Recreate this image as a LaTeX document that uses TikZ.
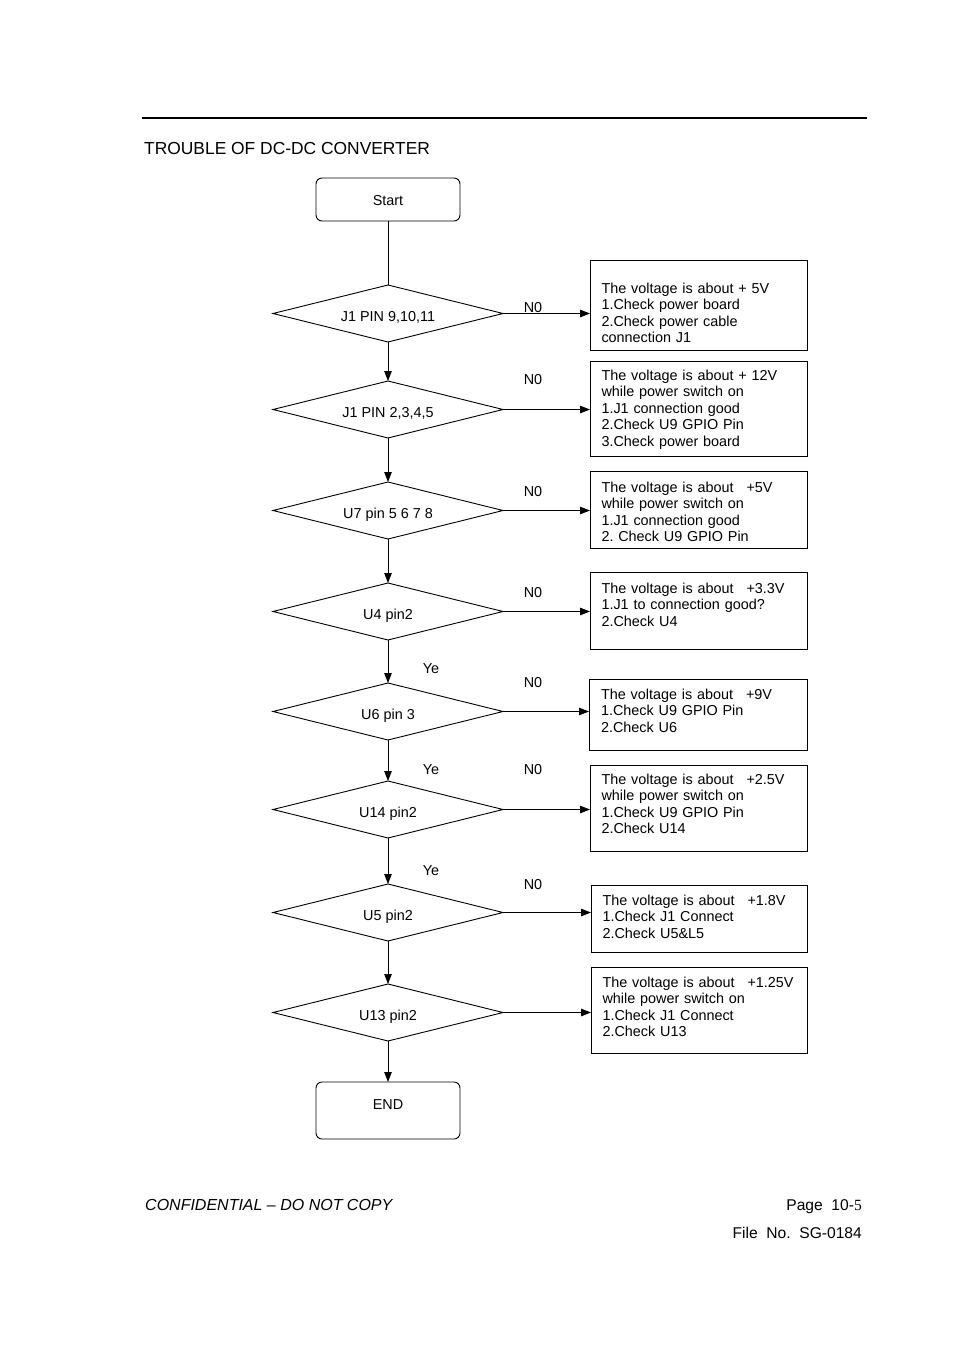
\documentclass[tikz,border=0pt]{standalone}
\usepackage{fontspec}
\setmainfont{Liberation Sans}
\newfontfamily\pagenumfont{Liberation Serif}
\usetikzlibrary{shapes.geometric, arrows.meta, positioning}
\frenchspacing

\tikzstyle{decision} = [diamond, draw, black, aspect=4, inner sep=0pt, outer sep=0pt,
                        minimum width=230pt, minimum height=57pt, line width=0.9pt,
                        text height=19pt, text depth=3pt]
\tikzstyle{terminal} = [rectangle, draw, black, rounded corners=6pt, minimum width=144pt,
                        inner ysep=0pt, outer sep=0pt, line width=0.9pt]
\tikzstyle{note} = [rectangle, draw, black, line width=1pt, inner xsep=11.5pt, inner ysep=0pt,
                    outer sep=0pt, text width=194pt, align=left, anchor=north west]
\tikzstyle{flow} = [-{Triangle[length=10pt,width=7.5pt]}, line width=0.9pt]
\tikzstyle{answer} = [inner sep=0pt]

\begin{document}
\begin{tikzpicture}[x=1pt, y=-1pt, font=\fontsize{14.4}{16.5}\selectfont]
\useasboundingbox (0,0) rectangle (954,1351);

%Header
\draw[line width=2pt] (142,118) -- (867,118);
\node[anchor=base west, inner sep=0pt, font=\fontsize{17.4}{20}\selectfont] (title) at (144,154.5) {TROUBLE OF DC-DC CONVERTER};

%Nodes
\node[terminal, anchor=north, text height=27pt, text depth=16pt] (start) at (388,178) {Start};
\node[decision, below=64pt of start] (j1a) {J1 PIN 9,10,11};
\node[decision, below=39pt of j1a] (j1b) {J1 PIN 2,3,4,5};
\node[decision, below=44pt of j1b] (u7) {U7 pin 5 6 7 8};
\node[decision, below=44pt of u7] (u4) {U4 pin2};
\node[decision, below=43pt of u4] (u6) {U6 pin 3};
\node[decision, below=41pt of u6] (u14) {U14 pin2};
\node[decision, below=46pt of u14] (u5) {U5 pin2};
\node[decision, below=43pt of u5] (u13) {U13 pin2};
\node[terminal, below=41pt of u13, text height=27pt, text depth=30pt] (end) {END};

%Notes
\node[note, text height=33pt, text depth=57pt] (v5) at (590,260)
  {The voltage is about + 5V\\1.Check power board\\2.Check power cable\\connection J1};
\node[note, text height=19pt, text depth=76pt] (v12) at (590,361)
  {The voltage is about + 12V\\while power switch on\\1.J1 connection good\\2.Check U9 GPIO Pin\\3.Check power board};
\node[note, text height=21pt, text depth=56pt] (v5b) at (590,471)
  {The voltage is about\hspace{13pt}+5V\\while power switch on\\1.J1 connection good\\2. Check U9 GPIO Pin};
\node[note, text height=21pt, text depth=56pt] (v33) at (590,572)
  {The voltage is about\hspace{13pt}+3.3V\\1.J1 to connection good?\\2.Check U4};
\node[note, text height=20pt, text depth=51pt, minimum width=218pt] (v9) at (589,679)
  {The voltage is about\hspace{13pt}+9V\\1.Check U9 GPIO Pin\\2.Check U6};
\node[note, text height=19pt, text depth=67pt] (v25) at (590,765)
  {The voltage is about\hspace{13pt}+2.5V\\while power switch on\\1.Check U9 GPIO Pin\\2.Check U14};
\node[note, text height=20pt, text depth=47pt, text width=193pt] (v18) at (591,885)
  {The voltage is about\hspace{13pt}+1.8V\\1.Check J1 Connect\\2.Check U5\&L5};
\node[note, text height=20pt, text depth=66pt, text width=193pt] (v125) at (591,967)
  {The voltage is about\hspace{13pt}+1.25V\\while power switch on\\1.Check J1 Connect\\2.Check U13};

%Answers
\node[answer] (no1) at (533,308) {N0};
\node[answer] (no2) at (533,380) {N0};
\node[answer] (no3) at (533,492) {N0};
\node[answer] (no4) at (533,593) {N0};
\node[answer] (no5) at (533,683) {N0};
\node[answer] (no6) at (533,770) {N0};
\node[answer] (no7) at (533,885) {N0};
\node[answer] (ye1) at (431,669) {Ye};
\node[answer] (ye2) at (431,770) {Ye};
\node[answer] (ye3) at (431,871) {Ye};

%Lines
\draw[line width=0.9pt] (start) -- (j1a);
\draw[flow] (j1a) -- (j1b);
\draw[flow] (j1b) -- (u7);
\draw[flow] (u7) -- (u4);
\draw[flow] (u4) -- (u6);
\draw[flow] (u6) -- (u14);
\draw[flow] (u14) -- (u5);
\draw[flow] (u5) -- (u13);
\draw[flow] (u13) -- (end);

\draw[flow] (j1a.east) -- (j1a.east -| v5.west);
\draw[flow] (j1b.east) -- (j1b.east -| v12.west);
\draw[flow] (u7.east) -- (u7.east -| v5b.west);
\draw[flow] (u4.east) -- (u4.east -| v33.west);
\draw[flow] (u6.east) -- (u6.east -| v9.west);
\draw[flow] (u14.east) -- (u14.east -| v25.west);
\draw[flow] (u5.east) -- (u5.east -| v18.west);
\draw[flow] (u13.east) -- (u13.east -| v125.west);

%Footer
\node[anchor=base west, inner sep=0pt, font=\fontsize{16}{19}\selectfont\itshape] (conf) at (145,1210) {CONFIDENTIAL – DO NOT COPY};
\node[anchor=base east, inner sep=0pt, font=\fontsize{15.6}{19}\selectfont] (page) at (862,1210) {Page\ \ 10-{\pagenumfont 5}};
\node[anchor=base east, inner sep=0pt, font=\fontsize{15.6}{19}\selectfont] (file) at (862,1238) {File\ \ No.\ \ SG-0184};
\end{tikzpicture}
\end{document}
